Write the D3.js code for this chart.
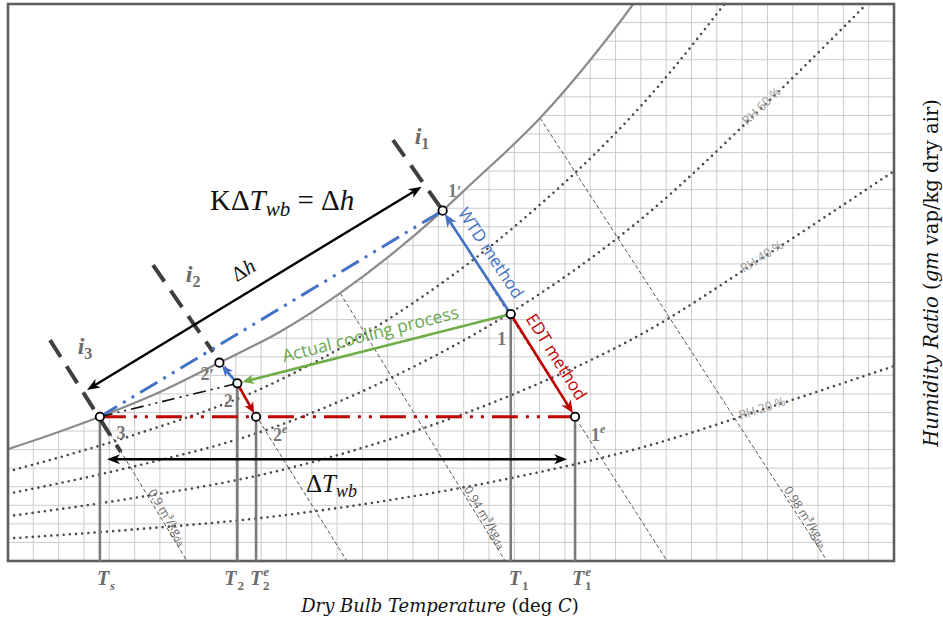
<!DOCTYPE html>
<html><head><meta charset="utf-8">
<script src="https://cdn.jsdelivr.net/npm/d3@7/dist/d3.min.js"></script>
<style>body{margin:0;background:#fff}svg{display:block}</style>
</head><body>
<svg id="c" width="943" height="621"></svg>
<script>
// ---------------- data ----------------
// saturation curve: dry bulb (chart units) vs humidity ratio
const satT = [0, 1.66, 3.63, 6.0, 8.35, 10.75, 13.12, 17.17, 18.25, 21.02, 24.7, 30, 35];
const satW = [6.03, 6.79, 7.77, 9.1, 10.68, 12.35, 14.43, 18.87, 20.25, 23.86, 30.0, 41.2, 52.5];
// relative humidity curves
const rhT   = [0, 5, 10, 15, 20, 25, 30, 35];
const rh80  = [4.82, 6.8, 9.28, 13.0, 18.0, 24.5, 33.0, 42.0];
const rh60  = [3.62, 5.1, 6.96, 9.78, 13.5, 18.4, 24.7, 31.5];
const rh40  = [2.41, 3.4, 4.64, 6.52, 9.0, 12.2, 16.5, 21.0];
const rh20  = [1.21, 1.7, 2.32, 3.26, 4.5, 6.1, 8.24, 10.5];
const rhSeries = [rh80, rh60, rh40, rh20];
const rhLabels = ["", "RH 60 %", "RH 40 %", "RH 20 %"];
const rhLabelT = 29.8;
// specific volume lines
const volLabels = ["0.9", "", "0.94", "", "0.98"];
const volTopT = [3.63, 8.42, 13.12, 17.17, 21.02];
const volTopW = [7.77, 10.83, 14.43, 18.87, 23.86];
const volBotT = [7.07, 13.39, 19.64, 26.04, 32.36];
// state points
const ptNames = ["3", "2p", "2", "2e", "1", "1p", "1e"];
const ptT = [3.63, 8.35, 9.06, 9.80, 19.86, 17.17, 22.40];
const ptW = [7.77, 10.68, 9.57, 7.77, 13.30, 18.87, 7.77];
// enthalpy markers i1, i2, i3 (start / end)
const iNames = ["1", "2", "3"];
const iT1 = [15.21, 5.73, 1.66], iW1 = [22.67, 15.94, 11.90];
const iT2 = [17.07, 8.10, 4.46], iW2 = [19.07, 11.26, 5.87];
// dimension arrows
const kArrowT = [3.12, 16.34], kArrowW = [9.21, 20.16];
const dtArrowT = [3.91, 22.09], dtArrowW = 5.48;
// grid
const gridT = d3.range(1, 35);
const gridW = d3.range(1, 30);

// ---------------- scales ----------------
const svg = d3.select('#c');
const x = d3.scaleLinear().domain([0, 35]).range([8, 894]);
const y = d3.scaleLinear().domain([0, 30]).range([561, 4]);
const P = n => { const i = ptNames.indexOf(n); return [x(ptT[i]), y(ptW[i])]; };

const satPts = satT.map((t, i) => [t, satW[i]]);
const lineGen = d3.line().x(d => x(d[0])).y(d => y(d[1])).curve(d3.curveMonotoneX);
const areaGen = d3.area().x(d => x(d[0])).y0(y(0)).y1(d => y(d[1])).curve(d3.curveMonotoneX);

const defs = svg.append('defs');
defs.append('clipPath').attr('id', 'frame').append('rect')
  .attr('x', x(0)).attr('y', y(30)).attr('width', x(35) - x(0)).attr('height', y(0) - y(30));
defs.append('clipPath').attr('id', 'under').append('path').attr('d', areaGen(satPts));

const gFrame = svg.append('g').attr('clip-path', 'url(#frame)');
const gUnder = gFrame.append('g').attr('clip-path', 'url(#under)');

// grid
gUnder.selectAll('.gv').data(gridT).join('line')
  .attr('x1', d => x(d)).attr('x2', d => x(d)).attr('y1', y(0)).attr('y2', y(30))
  .attr('stroke', '#c6c6c6').attr('stroke-width', 0.9);
gUnder.selectAll('.gh').data(gridW).join('line')
  .attr('y1', d => y(d)).attr('y2', d => y(d)).attr('x1', x(0)).attr('x2', x(35))
  .attr('stroke', '#c6c6c6').attr('stroke-width', 0.9);

// RH curves
rhSeries.forEach(s => {
  gFrame.append('path').attr('d', lineGen(rhT.map((t, i) => [t, s[i]])))
    .attr('fill', 'none').attr('stroke', '#4a4a4a').attr('stroke-width', 2.6)
    .attr('stroke-dasharray', '0 6.2').attr('stroke-linecap', 'round');
});
rhSeries.forEach((s, k) => {
  if (!rhLabels[k]) return;
  const f = d3.scaleLinear().domain(rhT).range(s);
  const w = f(rhLabelT), w1 = f(rhLabelT - 1), w2 = f(rhLabelT + 1);
  const ang = Math.atan2(y(w2) - y(w1), x(rhLabelT + 1) - x(rhLabelT - 1)) * 180 / Math.PI;
  gFrame.append('text').attr('transform', `translate(${x(rhLabelT)},${y(w)}) rotate(${ang})`)
    .attr('text-anchor', 'middle').attr('dy', 3).attr('font-family', 'Open Sans, sans-serif')
    .attr('font-size', 12.5).attr('fill', '#9a9a9a').text(rhLabels[k]);
});

// specific volume lines
volTopT.forEach((t, k) => {
  const x1 = x(t), y1 = y(volTopW[k]), x2 = x(volBotT[k]), y2 = y(0);
  gFrame.append('line').attr('x1', x1).attr('y1', y1).attr('x2', x2).attr('y2', y2)
    .attr('stroke', '#555').attr('stroke-width', 1).attr('stroke-dasharray', '4 2.5');
  if (volLabels[k]) {
    const wl = 2.2, s = 1 - wl / volTopW[k];
    const lx = x1 + s * (x2 - x1), ly = y(wl);
    const ang = Math.atan2(y2 - y1, x2 - x1) * 180 / Math.PI;
    const t0 = gFrame.append('text').attr('transform', `translate(${lx},${ly}) rotate(${ang})`)
      .attr('text-anchor', 'middle').attr('dy', -2).attr('font-family', 'Open Sans, sans-serif')
      .attr('font-size', 12).attr('fill', '#6a6a6a');
    t0.append('tspan').text(volLabels[k] + ' m³/kg');
    t0.append('tspan').attr('font-size', 9).attr('dy', 2).text('da');
  }
});

// saturation curve
gFrame.append('path').attr('d', lineGen(satPts)).attr('fill', 'none')
  .attr('stroke', '#8a8a8a').attr('stroke-width', 2.2);

// frame
svg.append('rect').attr('x', x(0)).attr('y', y(30)).attr('width', x(35) - x(0)).attr('height', y(0) - y(30))
  .attr('fill', 'none').attr('stroke', '#5f5f5f').attr('stroke-width', 2.6);

// vertical drop lines
const ann = svg.append('g');
["3", "2", "2e", "1", "1e"].forEach(n => {
  const p = P(n);
  ann.append('line').attr('x1', p[0]).attr('x2', p[0]).attr('y1', p[1]).attr('y2', y(0))
    .attr('stroke', '#7b7b7b').attr('stroke-width', 2.6);
});

// enthalpy marker lines
iNames.forEach((n, k) => {
  ann.append('line').attr('x1', x(iT1[k])).attr('y1', y(iW1[k])).attr('x2', x(iT2[k])).attr('y2', y(iW2[k]))
    .attr('stroke', '#3f3f3f').attr('stroke-width', 4).attr('stroke-dasharray', '20 11');
});
const iLabOff = [[29, 4], [40, 17], [35, 14]];
iNames.forEach((n, k) => {
  const t = ann.append('text').attr('x', x(iT1[k]) + iLabOff[k][0]).attr('y', y(iW1[k]) + iLabOff[k][1])
    .attr('text-anchor', 'middle').attr('font-family', 'Liberation Serif, serif').attr('font-style', 'italic')
    .attr('font-weight', 'bold').attr('font-size', 24).attr('fill', '#6b6b6b');
  t.append('tspan').text('i');
  t.append('tspan').attr('font-size', 16).attr('dy', 5).attr('font-style', 'normal').text(n);
});

// dash-dot connectors
function seg(a, b, color, w, dash) {
  ann.append('line').attr('x1', a[0]).attr('y1', a[1]).attr('x2', b[0]).attr('y2', b[1])
    .attr('stroke', color).attr('stroke-width', w).attr('stroke-dasharray', dash);
}
seg(P("3"), P("1p"), '#4472C4', 3, '20 7 3 7 3 7');
seg(P("3"), P("1e"), '#C00000', 3, '26 8 3 8 3 8');
seg(P("3"), P("2"), '#111', 1.6, '13 5 2 5 2 5');

// arrows
function arrowHead(tip, ux, uy, L, Wd, color) {
  const nx = -uy, ny = ux;
  const bx = tip[0] - ux * L, by = tip[1] - uy * L;
  const mx = tip[0] - ux * L * 0.72, my = tip[1] - uy * L * 0.72;
  ann.append('path').attr('d', `M${tip[0]},${tip[1]}L${bx + nx * Wd / 2},${by + ny * Wd / 2}L${mx},${my}L${bx - nx * Wd / 2},${by - ny * Wd / 2}Z`)
    .attr('fill', color);
}
function arrow(a, b, color, w, o) {
  const dx = b[0] - a[0], dy = b[1] - a[1], len = Math.hypot(dx, dy), ux = dx / len, uy = dy / len;
  const ts = o.trimStart || 0, te = o.trimEnd || 0, L = o.L || 12, Wd = o.W || 10;
  const s = [a[0] + ux * ts, a[1] + uy * ts], e = [b[0] - ux * te, b[1] - uy * te];
  const ls = o.start ? [s[0] + ux * L * 0.7, s[1] + uy * L * 0.7] : s;
  const le = o.end ? [e[0] - ux * L * 0.7, e[1] - uy * L * 0.7] : e;
  ann.append('line').attr('x1', ls[0]).attr('y1', ls[1]).attr('x2', le[0]).attr('y2', le[1])
    .attr('stroke', color).attr('stroke-width', w);
  if (o.end) arrowHead(e, ux, uy, L, Wd, color);
  if (o.start) arrowHead(s, -ux, -uy, L, Wd, color);
}
arrow(P("1"), P("2"), '#70AD47', 2.6, { end: true, trimStart: 4, trimEnd: 5, L: 12, W: 10 });
arrow(P("1"), P("1p"), '#4472C4', 2.6, { end: true, trimStart: 4, trimEnd: 4, L: 13, W: 11 });
arrow(P("1"), P("1e"), '#C00000', 2.6, { end: true, trimStart: 4, trimEnd: 4, L: 13, W: 11 });
arrow(P("2"), P("2p"), '#4472C4', 2.6, { end: true, trimStart: 4, trimEnd: 4, L: 11, W: 10 });
arrow(P("2"), P("2e"), '#C00000', 2.6, { end: true, trimStart: 4, trimEnd: 4, L: 11, W: 10 });
arrow([x(kArrowT[0]), y(kArrowW[0])], [x(kArrowT[1]), y(kArrowW[1])], '#000', 2.4, { start: true, end: true, L: 13, W: 10 });
arrow([x(dtArrowT[0]), y(dtArrowW)], [x(dtArrowT[1]), y(dtArrowW)], '#000', 2.4, { start: true, end: true, L: 13, W: 10 });

// point markers
ptNames.forEach(n => {
  const p = P(n);
  ann.append('circle').attr('cx', p[0]).attr('cy', p[1]).attr('r', 4.2)
    .attr('fill', '#fff').attr('stroke', '#000').attr('stroke-width', 1.8);
});

// point labels
const lab = { "3": [21, 22, "3", ""], "2p": [-12, 17, "2", "′"], "2": [-9, 24, "2", ""], "2e": [24, 24, "2", "e"],
  "1": [-9, 31, "1", ""], "1p": [12, -14, "1", "′"], "1e": [23, 24, "1", "e"] };
Object.keys(lab).forEach(n => {
  const p = P(n), L = lab[n];
  const t = ann.append('text').attr('x', p[0] + L[0]).attr('y', p[1] + L[1]).attr('text-anchor', 'middle')
    .attr('font-family', 'Liberation Serif, serif').attr('font-weight', 'bold').attr('font-size', 18).attr('fill', '#777');
  t.append('tspan').text(L[2]);
  if (L[3] === 'e') t.append('tspan').attr('font-size', 12).attr('font-style', 'italic').attr('dy', -8).text('e');
  else if (L[3]) t.append('tspan').attr('font-size', 16).text(L[3]);
});

// method / process labels
function alongLabel(a, b, txt, color, off, size) {
  const dx = b[0] - a[0], dy = b[1] - a[1];
  const ang = Math.atan2(dy, dx) * 180 / Math.PI;
  const mx = (a[0] + b[0]) / 2, my = (a[1] + b[1]) / 2;
  ann.append('text').attr('transform', `translate(${mx},${my}) rotate(${ang})`).attr('text-anchor', 'middle')
    .attr('dy', off).attr('font-family', 'Open Sans, sans-serif').attr('font-size', size).attr('fill', color).text(txt);
}
alongLabel(P("2"), P("1"), 'Actual cooling process', '#6aa84f', -9, 17.5);
alongLabel(P("1p"), P("1"), 'WTD method', '#4472C4', -11, 17);
alongLabel(P("1"), P("1e"), 'EDT method', '#C00000', -10, 17);

// equation
const eq = ann.append('text').attr('x', 210).attr('y', 210).attr('font-family', 'Liberation Serif, serif')
  .attr('font-size', 29).attr('fill', '#111');
eq.append('tspan').text('KΔ');
eq.append('tspan').attr('font-style', 'italic').text('T');
eq.append('tspan').attr('font-style', 'italic').attr('font-size', 21).attr('dy', 6).text('wb');
eq.append('tspan').attr('dy', -6).text(' = Δ');
eq.append('tspan').attr('font-style', 'italic').text('h');

// Δh along arrow
{
  const a = [x(kArrowT[0]), y(kArrowW[0])], b = [x(kArrowT[1]), y(kArrowW[1])];
  const ang = Math.atan2(b[1] - a[1], b[0] - a[0]) * 180 / Math.PI;
  const t = ann.append('text').attr('transform', `translate(${247},${276}) rotate(${ang})`).attr('text-anchor', 'middle')
    .attr('font-family', 'Liberation Serif, serif').attr('font-size', 21).attr('fill', '#111');
  t.append('tspan').text('Δ'); t.append('tspan').attr('font-style', 'italic').text('h');
}
// ΔTwb
{
  const t = ann.append('text').attr('x', 306).attr('y', 492).attr('font-family', 'Liberation Serif, serif')
    .attr('font-size', 25).attr('fill', '#111');
  t.append('tspan').text('Δ');
  t.append('tspan').attr('font-style', 'italic').text('T');
  t.append('tspan').attr('font-style', 'italic').attr('font-size', 18).attr('dy', 5).text('wb');
}

// T labels below axis
const tl = { "3": ["s", "", -3], "2": ["2", "", -13], "2e": ["2", "e", -6], "1": ["1", "", -2], "1e": ["1", "e", -3] };
Object.keys(tl).forEach(n => {
  const p = P(n);
  const t = ann.append('text').attr('x', p[0] + tl[n][2]).attr('y', 585).attr('font-family', 'Liberation Serif, serif')
    .attr('font-style', 'italic').attr('font-weight', 'bold').attr('font-size', 20).attr('fill', '#6b6b6b');
  t.append('tspan').text('T');
  if (tl[n][1]) {
    t.append('tspan').attr('font-size', 13).attr('dy', -9).attr('dx', 1).text('e');
    t.append('tspan').attr('font-size', 13).attr('font-style', 'normal').attr('dy', 14).attr('dx', -6).text(tl[n][0]);
  } else {
    t.append('tspan').attr('font-size', 13).attr('font-style', tl[n][0] === 's' ? 'italic' : 'normal').attr('dy', 5).attr('dx', 1).text(tl[n][0]);
  }
});

// axis titles
{
  const t = svg.append('text').attr('x', 440).attr('y', 612).attr('text-anchor', 'middle')
    .attr('font-family', 'DejaVu Serif, serif').attr('font-size', 18).attr('fill', '#111');
  t.append('tspan').attr('font-style', 'italic').text('Dry Bulb Temperature ');
  t.append('tspan').text('(deg ');
  t.append('tspan').attr('font-style', 'italic').text('C');
  t.append('tspan').text(')');
}
{
  const t = svg.append('text').attr('transform', 'translate(938,273) rotate(-90)').attr('text-anchor', 'middle')
    .attr('font-family', 'DejaVu Serif, serif').attr('font-size', 19.5).attr('fill', '#111');
  t.append('tspan').attr('font-style', 'italic').text('Humidity Ratio ');
  t.append('tspan').text('(');
  t.append('tspan').attr('font-style', 'italic').text('gm');
  t.append('tspan').text(' vap/kg dry air)');
}
</script>
</body></html>
